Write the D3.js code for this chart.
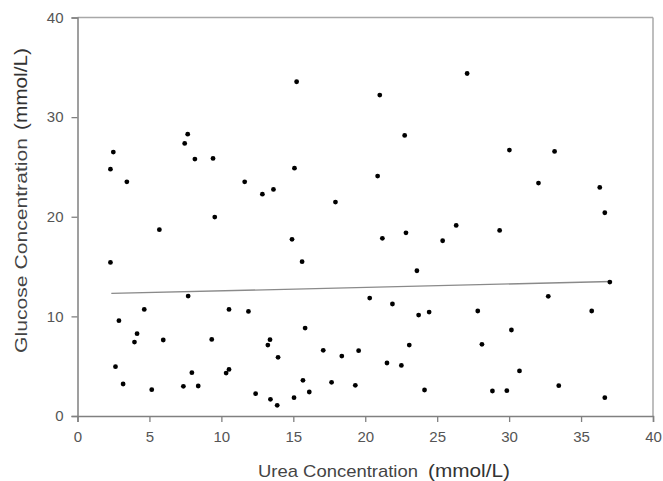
<!DOCTYPE html>
<html>
<head>
<meta charset="utf-8">
<script src="https://cdn.jsdelivr.net/npm/d3@7/dist/d3.min.js"></script>
<style>
html,body{margin:0;padding:0;background:#fff;}
svg{display:block;font-family:"Liberation Sans",Arial,sans-serif;}
</style>
</head>
<body>
<svg id="chart" width="663" height="481"></svg>
<script>
// Urea concentration (mmol/L)
const ureaValues = [2.29,2.49,2.29,3.43,2.88,2.64,3.17,4.64,4.14,3.96,5.16,5.69,5.96,7.45,7.66,8.16,7.69,7.95,7.36,8.39,
  9.42,9.54,9.33,10.53,10.33,10.53,11.62,11.88,12.85,13.62,12.38,13.23,13.38,13.94,13.41,13.88,15.23,15.08,14.91,15.61,
  15.82,15.67,15.05,16.11,17.08,17.66,17.93,18.37,19.31,19.54,20.31,20.86,21.01,21.19,21.51,21.89,22.51,22.74,22.83,23.06,
  23.59,23.71,24.12,24.44,25.38,26.32,27.08,27.82,28.11,28.84,29.34,29.84,30.02,30.16,30.72,32.04,32.72,33.16,33.45,35.74,
  36.30,36.65,36.65,37.00];
// Glucose concentration (mmol/L)
const glucoseValues = [24.78,26.49,15.42,23.51,9.57,4.95,3.21,10.70,8.26,7.42,2.64,18.70,7.63,27.36,28.29,25.79,12.04,4.35,2.98,3.01,
  25.85,19.97,7.69,10.70,4.31,4.68,23.51,10.50,22.27,22.74,2.24,7.12,7.66,5.89,1.67,1.07,33.55,24.88,17.73,15.49,
  8.83,3.58,1.84,2.41,6.59,3.38,21.47,6.02,3.08,6.56,11.84,24.08,32.21,17.83,5.32,11.24,5.08,28.16,18.39,7.12,
  14.58,10.13,2.61,10.43,17.59,19.13,34.38,10.54,7.19,2.51,18.63,2.54,26.69,8.63,4.52,23.38,12.01,26.56,3.04,10.54,
  22.94,20.40,1.84,13.44];
// Fitted trend line end points
const trendX = [2.35, 37.1];
const trendY = [12.3, 13.5];
// Ticks
const xTicks = [0,5,10,15,20,25,30,35,40];
const yTicks = [0,10,20,30,40];

(function(){
const svg = d3.select("#chart");
const pLeft = 77.5, pRight = 653, pTop = 17.5, pBottom = 416;
const x = d3.scaleLinear().domain([0,40]).range([pLeft,pRight]);
const y = d3.scaleLinear().domain([0,40]).range([pBottom,pTop]);

// frame (top & right)
svg.append("line").attr("x1",pLeft).attr("x2",pRight).attr("y1",pTop).attr("y2",pTop)
  .attr("stroke","#a8a8a8").attr("stroke-width",1.5);
svg.append("line").attr("x1",pRight).attr("x2",pRight).attr("y1",pTop).attr("y2",pBottom)
  .attr("stroke","#a8a8a8").attr("stroke-width",1.5);

// axes
const xAxis = svg.append("g").attr("transform",`translate(0,${pBottom})`)
  .call(d3.axisBottom(x).tickValues(xTicks).tickSize(6).tickPadding(9).tickFormat(d3.format("d")));
const yAxis = svg.append("g").attr("transform",`translate(${pLeft},0)`)
  .call(d3.axisLeft(y).tickValues(yTicks).tickSize(6).tickPadding(8).tickFormat(d3.format("d")));
[xAxis,yAxis].forEach(g=>{
  g.select(".domain").attr("stroke","#808080").attr("stroke-width",1.5);
  g.selectAll(".tick line").attr("stroke","#808080").attr("stroke-width",1.3);
  g.selectAll(".tick text").attr("fill","#555").style("font-size","15px")
    .style("font-family","'Liberation Sans',Arial,sans-serif");
});

// trend line
svg.append("line")
  .attr("x1",x(trendX[0])).attr("y1",y(trendY[0]))
  .attr("x2",x(trendX[1])).attr("y2",y(trendY[1]))
  .attr("stroke","#8a8a8a").attr("stroke-width",1.3);

// points
svg.append("g").selectAll("circle")
  .data(ureaValues.map((u,i)=>[u,glucoseValues[i]]))
  .join("circle")
  .attr("cx",d=>x(d[0])).attr("cy",d=>y(d[1])).attr("r",2.4)
  .attr("fill","#000");

// x title
svg.append("text").attr("x",258).attr("y",477).attr("fill","#444")
  .style("font-size","17px").attr("textLength",160).attr("lengthAdjust","spacingAndGlyphs")
  .text("Urea Concentration");
svg.append("text").attr("x",428).attr("y",477).attr("fill","#333")
  .style("font-size","19px").attr("textLength",82).attr("lengthAdjust","spacingAndGlyphs")
  .text("(mmol/L)");

// y title
svg.append("text").attr("transform","translate(27,353) rotate(-90)").attr("fill","#444")
  .style("font-size","17px").attr("textLength",215).attr("lengthAdjust","spacingAndGlyphs")
  .text("Glucose Concentration");
svg.append("text").attr("transform","translate(27,130) rotate(-90)").attr("fill","#333")
  .style("font-size","18px").attr("textLength",82).attr("lengthAdjust","spacingAndGlyphs")
  .text("(mmol/L)");
})();
</script>
</body>
</html>
